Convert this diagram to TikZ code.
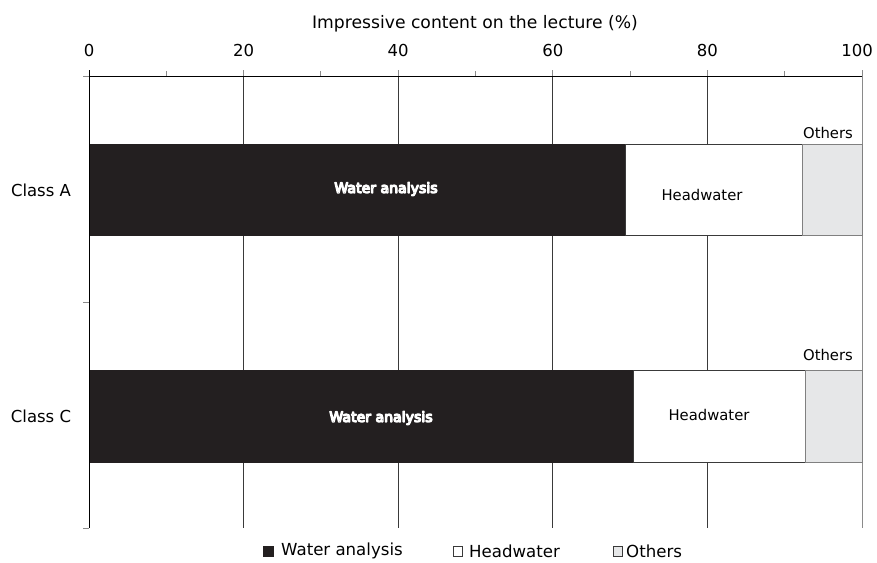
\documentclass[tikz,border=0pt]{standalone}
\usepackage{fontspec}
\setmainfont{DejaVu Sans}
\definecolor{barblack}{HTML}{231F20}
\definecolor{othergray}{HTML}{E6E7E8}
\definecolor{gridc}{HTML}{3A3A3A}
\definecolor{tickc}{HTML}{8A8A8A}
\tikzset{
  lbl/.style={inner sep=0pt, font=\fontsize{16.5}{18}\selectfont},
  ttl/.style={inner sep=0pt, font=\fontsize{17.2}{19}\selectfont},
  seglbl/.style={inner sep=0pt, font=\fontsize{14.8}{16}\selectfont},
  walbl/.style={inner sep=0pt, font=\fontsize{14.1}{16}\selectfont},
  leglbl/.style={inner sep=0pt, anchor=west, font=\fontsize{16.6}{17}\selectfont},
  gridline/.style={draw=gridc, line width=0.9pt},
  tickline/.style={draw=tickc, line width=0.9pt},
  waterseg/.style={fill=barblack, draw=barblack, line width=0.6pt},
  headseg/.style={fill=white, draw=gridc, line width=0.8pt},
  otherseg/.style={fill=othergray, draw=gray, line width=0.8pt},
}
\newcommand\halotxt[1]{\special{pdf:literal direct 2 Tr 1.25 w 1 j 1 1 1 RG}#1\special{pdf:literal direct 0 Tr}}
\begin{document}
\begin{tikzpicture}[x=1pt,y=-1pt]
\useasboundingbox (0,0) rectangle (877,562);
\fill[white] (0,0) rectangle (877,562);

% title and tick labels
\node[ttl] (title) at (475,24) {Impressive content on the lecture (\%)};
\node[lbl] (t0) at (89,50) {0};
\node[lbl] (t20) at (243.6,50) {20};
\node[lbl] (t40) at (398.2,50) {40};
\node[lbl] (t60) at (552.8,50) {60};
\node[lbl] (t80) at (707.4,50) {80};
\node[lbl] (t100) at (857,50) {100};

% grid lines
\foreach \x in {243.6,398.2,552.8,707.4}{\draw[gridline] (\x,76) -- (\x,528);}
\draw[tickline] (862,70) -- (862,528);
% top axis ticks
\foreach \x in {89,243.6,398.2,552.8,707.4}{\draw[tickline] (\x,70) -- (\x,76);}
\foreach \x in {166.3,320.9,475.5,630.1,784.7}{\draw[tickline] (\x,71) -- (\x,76);}
% left ticks
\draw[tickline] (83,76) -- (89,76);
\draw[tickline] (83,302) -- (89,302);
\draw[tickline] (83,528) -- (89,528);

% bars Class A
\draw[waterseg] (89,144) rectangle (625,235);
\draw[headseg] (625,144) rectangle (802,235);
\draw[otherseg] (802,144) rectangle (862,235);
% bars Class C
\draw[waterseg] (89,370) rectangle (633,462);
\draw[headseg] (633,370) rectangle (805,462);
\draw[otherseg] (805,370) rectangle (862,462);

% axes
\draw[draw=black, line width=1pt] (89,70) -- (89,528);
\draw[draw=black, line width=1pt] (89,76) -- (862,76);

% category labels
\node[lbl] (classA) at (41,190) {Class A};
\node[lbl] (classC) at (41,416) {Class C};

% segment labels
\node[walbl, text=black] (waA) at (386,189) {\halotxt{Water analysis}};
\node[walbl, text=black] (waC) at (381,418) {\halotxt{Water analysis}};
\node[seglbl] (hwA) at (702,195) {Headwater};
\node[seglbl] (hwC) at (709,415) {Headwater};
\node[seglbl] (otA) at (828,133) {Others};
\node[seglbl] (otC) at (828,355) {Others};

% legend
\fill[barblack] (263,545.5) rectangle (274,556.5);
\node[leglbl] (lgW) at (281,551) {Water analysis};
\draw[draw=gridc, fill=white, line width=0.6pt] (453,546) rectangle (462.5,556);
\node[leglbl] (lgH) at (469,551) {Headwater};
\draw[draw=gridc, fill=othergray, line width=0.6pt] (613,546) rectangle (622.5,556);
\node[leglbl] (lgO) at (626,551) {Others};
\end{tikzpicture}
\end{document}
